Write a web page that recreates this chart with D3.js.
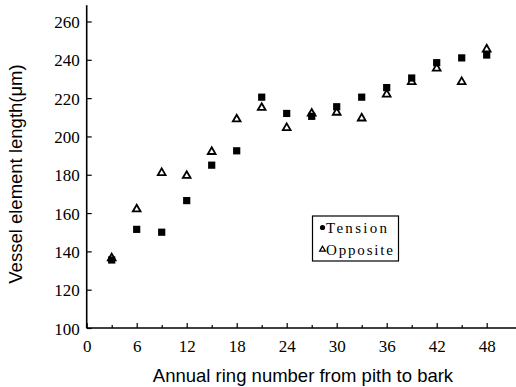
<!DOCTYPE html>
<html>
<head>
<meta charset="utf-8">
<script src="https://cdn.jsdelivr.net/npm/d3@7"></script>
<style>
  body { margin: 0; background: #fff; }
  .tick text { font-family: "Liberation Serif", serif; font-size: 17px; fill: #000; }
  .tick line { stroke: #000; stroke-width: 1.2; }
</style>
</head>
<body>
<script>
// ring numbers (years from pith)
const rings = [3, 6, 9, 12, 15, 18, 21, 24, 27, 30, 33, 36, 39, 42, 45, 48];
// vessel element length, micrometres
const tension  = [135.5, 151.5, 150, 166.5, 185, 192.5, 220.5, 212, 210.5, 215.5, 220.5, 225.5, 230.5, 238.5, 241, 242.5];
const opposite = [136.5, 162, 181, 179.5, 192, 209, 215, 204.5, 212, 212.5, 209.5, 222, 228.5, 235.5, 228.5, 245.5];
const xTicks = [0, 6, 12, 18, 24, 30, 36, 42, 48];
const xMinor = [3, 9, 15, 21, 27, 33, 39, 45];
const yTicks = [100, 120, 140, 160, 180, 200, 220, 240, 260];
const legendNames = ["Tension", "Opposite"];

const width = 516, height = 387;

const svg = d3.select("body").append("svg")
    .attr("width", width)
    .attr("height", height);

const x = d3.scaleLinear().domain([0, 48]).range([86.7, 486.7]);
const y = d3.scaleLinear().domain([100, 260]).range([328, 21.5]);

// axes, ticks pointing inward
const xAxis = svg.append("g")
    .attr("transform", `translate(0,${y(100)})`)
    .call(d3.axisBottom(x).tickValues(xTicks).tickSizeInner(-5).tickSizeOuter(0).tickPadding(12));
xAxis.select(".domain").remove();

svg.append("g")
    .attr("transform", `translate(0,${y(100)})`)
    .call(d3.axisBottom(x).tickValues(xMinor).tickSizeInner(-3).tickSizeOuter(0).tickFormat(""))
    .select(".domain").remove();

const yAxis = svg.append("g")
    .attr("transform", `translate(${x(0)},0)`)
    .call(d3.axisLeft(y).tickValues(yTicks).tickSizeInner(-5).tickSizeOuter(0).tickPadding(7));
yAxis.select(".domain").remove();
yAxis.selectAll(".tick text").attr("dy", "0.36em");

// axis lines run past the last ticks
svg.append("line")
    .attr("x1", x(0)).attr("x2", width)
    .attr("y1", y(100)).attr("y2", y(100))
    .attr("stroke", "#000").attr("stroke-width", 1.6);
svg.append("line")
    .attr("x1", x(0)).attr("x2", x(0))
    .attr("y1", y(100)).attr("y2", y(268.5))
    .attr("stroke", "#000").attr("stroke-width", 1.6);

// axis titles
svg.append("text")
    .attr("x", 303).attr("y", 382)
    .attr("text-anchor", "middle")
    .style("font-family", "'Liberation Sans', Arial, sans-serif")
    .style("font-size", "18.5px")
    .text("Annual ring number from pith to bark");

svg.append("text")
    .attr("transform", "translate(22,174) rotate(-90)")
    .attr("text-anchor", "middle")
    .style("font-family", "'Liberation Sans', Arial, sans-serif")
    .style("font-size", "18.5px")
    .text("Vessel element length(\u03BCm)");

// points
const tri = d3.symbol().type(d3.symbolTriangle).size(26);

svg.append("g").selectAll("path")
    .data(rings.map((r, i) => [r, opposite[i]]))
    .join("path")
    .attr("d", tri)
    .attr("transform", d => `translate(${x(d[0])},${y(d[1])})`)
    .attr("fill", "#fff")
    .attr("stroke", "#000")
    .attr("stroke-width", 1.8);

svg.append("g").selectAll("rect")
    .data(rings.map((r, i) => [r, tension[i]]))
    .join("rect")
    .attr("x", d => x(d[0]) - 3.6)
    .attr("y", d => y(d[1]) - 3.6)
    .attr("width", 7.2)
    .attr("height", 7.2)
    .attr("fill", "#000");

// legend
const lg = svg.append("g");
lg.append("rect")
    .attr("x", 312.5).attr("y", 216)
    .attr("width", 86).attr("height", 45)
    .attr("fill", "#fff")
    .attr("stroke", "#000").attr("stroke-width", 1.2);

lg.append("circle")
    .attr("cx", 322.5).attr("cy", 227.5).attr("r", 2.6)
    .attr("fill", "#000");
lg.append("path")
    .attr("d", d3.symbol().type(d3.symbolTriangle).size(14))
    .attr("transform", "translate(322.5,249.5)")
    .attr("fill", "#fff").attr("stroke", "#000").attr("stroke-width", 1.3);

lg.selectAll("text")
    .data(legendNames)
    .join("text")
    .attr("x", 326)
    .attr("y", (d, i) => 233 + i * 22)
    .attr("textLength", (d, i) => i === 0 ? 61 : 67)
    .style("font-family", "'Liberation Serif', serif")
    .style("font-size", "15px")
    .text(d => d);
</script>
</body>
</html>
